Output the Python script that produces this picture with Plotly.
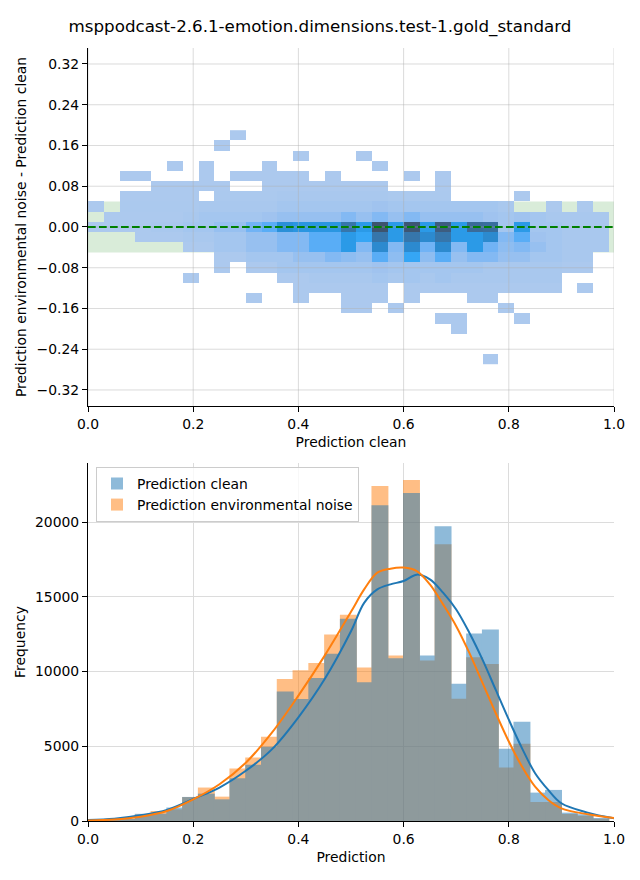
import math
import plotly.graph_objects as go

# ---------------- data ----------------
TITLE = "msppodcast-2.6.1-emotion.dimensions.test-1.gold_standard"

# 2D histogram (top): x = Prediction clean bins (centres), y = difference bins (centres)
clean_bins = [round(0.015 + 0.03 * k, 4) for k in range(33)]
diff_bins = [round(-0.26 + 0.02 * j, 2) for j in range(23)]  # -0.26 ... 0.18

# counts per cell, one row per diff bin (from -0.26 up to 0.18); 0 = empty cell
row_m026 = [0]*25 + [15] + [0]*7
row_m024 = [0]*33
row_m022 = [0]*33
row_m020 = [0]*23 + [15] + [0]*9
row_m018 = [0]*22 + [15, 15, 0, 0, 0, 15] + [0]*5
row_m016 = [0]*16 + [15, 15, 0, 15] + [0]*6 + [15] + [0]*6
row_m014 = [0]*10 + [15, 0, 0, 15, 0, 0, 15, 15, 15, 0, 15, 0, 0, 0, 15, 15] + [0]*7
row_m012 = [0]*13 + [15]*6 + [0] + [20, 20, 20, 20, 20, 20, 15, 15, 15, 15] + [0, 15, 0]
row_m010 = [0]*6 + [15] + [0]*5 + [15, 15] + [90]*4 + [230, 90, 230, 90, 230] + [90]*7 + [0]*3
row_m008 = [0]*8 + [15, 0, 15, 15] + [230]*6 + [380] + [230]*6 + [90]*5 + [15, 15, 0]
row_m006 = [0]*8 + [15, 15, 230, 230, 230, 610, 610, 1140, 840, 610, 1980, 840, 2510, 840,
                    1980, 610, 1140, 1140, 610, 610, 230, 230, 90, 90, 0]
row_m004 = [0]*6 + [15, 15, 230, 230, 610, 610, 1140, 1140, 1980, 1980, 3190, 1140, 4180, 1140,
                    4180, 1520, 4180, 1140, 3190, 1520, 840, 1140, 610, 230, 90, 90, 90]
row_m002 = [0]*3 + [15, 15, 15, 90, 90, 230, 230, 610, 610, 1140, 1140, 1980, 1980, 3190, 2510,
                    5470, 3190, 5470, 4180, 5470, 3190, 3190, 4180, 1140, 1980, 380, 230, 90, 90, 90]
row_000 = [15, 15, 15, 15, 90, 90, 230, 230, 610, 610, 1520, 1980, 3800, 3420, 3420, 3420, 5470,
           3190, 7600, 3190, 7450, 3190, 6990, 3190, 6080, 5930, 230, 3190, 230, 230, 90, 90, 90]
row_p002 = [0, 15, 15, 15, 15, 15, 90, 230, 230, 230, 230, 380, 610, 610, 610, 610, 1140, 610,
            1140, 610, 1140, 610, 610, 610, 610, 380, 230, 380, 230, 90, 90, 90, 90]
row_p004 = [15, 0, 30, 30, 30, 30, 30, 90, 90, 90, 90, 90, 230, 230, 230, 230, 230, 230, 380,
            230, 230, 230, 230, 230, 230, 230, 90, 0, 0, 15, 0, 15, 0]
row_p006 = [0, 0, 15, 15, 15, 15, 15, 0, 30, 30, 30, 30, 90, 90, 90, 90, 90, 90, 90, 30, 30, 30,
            30, 0, 0, 0, 0, 15, 0, 0, 0, 0, 0]
row_p008 = [0]*4 + [15]*5 + [0, 0] + [15]*8 + [0]*3 + [15] + [0]*10
row_p010 = [0, 0, 15, 15, 0, 0, 0, 15, 0, 15, 15, 15, 15, 15, 0, 15, 0, 0, 0, 0, 15, 0, 15] + [0]*10
row_p012 = [0]*5 + [15, 0, 15, 0, 0, 0, 15] + [0]*6 + [15] + [0]*14
row_p014 = [0]*13 + [15, 0, 0, 0, 15] + [0]*15
row_p016 = [0]*8 + [15] + [0]*24
row_p018 = [0]*9 + [15] + [0]*23

cell_counts = [row_m026, row_m024, row_m022, row_m020, row_m018, row_m016, row_m014, row_m012,
               row_m010, row_m008, row_m006, row_m004, row_m002, row_000, row_p002, row_p004,
               row_p006, row_p008, row_p010, row_p012, row_p014, row_p016, row_p018]

band_limits = [-0.05, 0.05]
zero_ref = 0.0

top_x_ticks = [0.0, 0.2, 0.4, 0.6, 0.8, 1.0]
top_x_labels = ["0.0", "0.2", "0.4", "0.6", "0.8", "1.0"]
top_y_ticks = [-0.32, -0.24, -0.16, -0.08, 0.0, 0.08, 0.16, 0.24, 0.32]
top_y_labels = ["\u22120.32", "\u22120.24", "\u22120.16", "\u22120.08", "0.00", "0.08", "0.16", "0.24", "0.32"]

# Histogram (bottom)
hist_bins = clean_bins
hist_clean = [20, 60, 150, 480, 490, 900, 1610, 1830, 1450, 2860, 3760, 4970, 8660, 8170, 9570,
              11190, 13530, 9280, 21140, 10900, 21950, 11070, 19730, 9190, 12550, 12820, 4830,
              6640, 1900, 2080, 560, 450, 200]
hist_noise = [15, 40, 110, 430, 670, 780, 1600, 2240, 1630, 3510, 4250, 5640, 9510, 10090, 10580,
              12480, 13800, 10270, 22420, 11070, 22820, 10740, 18520, 8190, 10960, 10500, 3580,
              5170, 1270, 1270, 470, 350, 150]

kde_x = [0.0, 0.05, 0.1, 0.15, 0.2, 0.25, 0.3, 0.35, 0.4, 0.45, 0.5, 0.525, 0.55, 0.575, 0.6,
         0.625, 0.65, 0.675, 0.7, 0.725, 0.75, 0.775, 0.8, 0.825, 0.85, 0.875, 0.9, 0.95, 1.0]
kde_clean = [70, 150, 380, 740, 1470, 2240, 3360, 4810, 6940, 9500, 12700, 14600, 15500, 15840,
             16060, 16490, 16170, 15280, 14160, 12600, 10800, 8790, 6780, 4880, 3200, 2080, 1190,
             560, 180]
kde_noise = [40, 100, 290, 670, 1450, 2460, 3900, 5930, 8390, 11070, 14000, 15500, 16620, 16890,
             16960, 16730, 15840, 14500, 13040, 11250, 9240, 7230, 5320, 3650, 2300, 1410, 850,
             450, 200]

bottom_y_ticks = [0, 5000, 10000, 15000, 20000]
bottom_y_labels = ["0", "5000", "10000", "15000", "20000"]

# ---------------- seaborn-like sequential colormap (HUSL ramp) ----------------
M_RGB = [[3.2406, -1.5372, -0.4986], [-0.9689, 1.8758, 0.0415], [0.0557, -0.2040, 1.0570]]
M_INV = [[0.4124, 0.3576, 0.1805], [0.2126, 0.7152, 0.0722], [0.0193, 0.1192, 0.9505]]
REF_U, REF_V = 0.19784, 0.46834
LAB_E, LAB_K = 0.008856, 903.3


def max_chroma(L, H):
    hrad = math.radians(H)
    sh, ch = math.sin(hrad), math.cos(hrad)
    sub1 = (L + 16) ** 3 / 1560896.0
    sub2 = sub1 if sub1 > LAB_E else L / LAB_K
    result = float("inf")
    for m1, m2, m3 in M_RGB:
        top = (0.99915 * m1 + 1.05122 * m2 + 1.14460 * m3) * sub2
        rb = 0.86330 * m3 - 0.17266 * m2
        lb = 0.12949 * m3 - 0.38848 * m1
        bottom = (rb * sh + lb * ch) * sub2
        for t in (0.0, 1.0):
            C = L * (top - 1.05122 * t) / (bottom + 0.17266 * sh * t)
            if 0 < C < result:
                result = C
    return result


def husl_to_rgb(H, S, L):
    C = max_chroma(L, H) / 100.0 * S
    U = math.cos(math.radians(H)) * C
    V = math.sin(math.radians(H)) * C
    t = (L + 16) / 116.0
    varY = t ** 3 if t ** 3 > LAB_E else L / LAB_K
    varU = U / (13 * L) + REF_U
    varV = V / (13 * L) + REF_V
    Y = varY
    X = -(9 * Y * varU) / ((varU - 4) * varV - varU * varV)
    Z = (9 * Y - 15 * varV * Y - varV * X) / (3 * varV)
    out = []
    for row in M_RGB:
        lin = row[0] * X + row[1] * Y + row[2] * Z
        v = 12.92 * lin if lin <= 0.0031308 else 1.055 * lin ** (1 / 2.4) - 0.055
        out.append(min(max(v, 0.0), 1.0))
    return out


def rgb_to_husl(r, g, b):
    lin = [((c + 0.055) / 1.055) ** 2.4 if c > 0.04045 else c / 12.92 for c in (r, g, b)]
    X, Y, Z = [sum(row[i] * lin[i] for i in range(3)) for row in M_INV]
    den = X + 15 * Y + 3 * Z
    vu, vv = 4 * X / den, 9 * Y / den
    L = 116 * Y ** (1 / 3) - 16 if Y > LAB_E else Y * LAB_K
    U, V = 13 * L * (vu - REF_U), 13 * L * (vv - REF_V)
    C = math.hypot(U, V)
    H = math.degrees(math.atan2(V, U)) % 360
    return H, C / max_chroma(L, H) * 100, L


seed = (0x1f / 255, 0x77 / 255, 0xb4 / 255)
h0, s0, _ = rgb_to_husl(*seed)
n_ramp = int(1.15 * 256)
ramp = []
for i in range(256):
    xx = -1 + 2 * i / (n_ramp - 1)
    ramp.append(husl_to_rgb(h0, s0 * math.cos(xx), 35 + 45 * i / 255))
ramp = ramp[::-1]
K = 40
colorscale = []
for i in range(K):
    r, g, b = ramp[round(i * 255 / (K - 1))]
    colorscale.append([i / (K - 1), f"rgb({round(r*255)},{round(g*255)},{round(b*255)})"])

z = [[v if v > 0 else None for v in row] for row in cell_counts]
flat = [v for row in cell_counts for v in row if v > 0]

# ---------------- figure ----------------
BLUE, ORANGE = "#1f77b4", "#ff7f0e"
GRID = "#dcdcdc"
FONT = "DejaVu Sans"
BAR_W = 0.0322  # ~1px overlap so adjacent bars show no anti-aliasing seams

fig = go.Figure()
fig.add_trace(go.Heatmap(x=clean_bins, y=diff_bins, z=z, colorscale=colorscale,
                         zmin=min(flat), zmax=max(flat), showscale=False,
                         hoverinfo="skip", xaxis="x", yaxis="y"))

fig.add_trace(go.Bar(x=hist_bins, y=hist_noise, width=BAR_W, name="Prediction environmental noise",
                     marker=dict(color=ORANGE, line=dict(width=0)), opacity=0.5,
                     xaxis="x2", yaxis="y2", legendrank=2))
fig.add_trace(go.Bar(x=hist_bins, y=hist_clean, width=BAR_W, name="Prediction clean",
                     marker=dict(color=BLUE, line=dict(width=0)), opacity=0.5,
                     xaxis="x2", yaxis="y2", legendrank=1))
fig.add_trace(go.Scatter(x=kde_x, y=kde_clean, mode="lines", line=dict(color=BLUE, width=2, shape="spline"),
                         showlegend=False, xaxis="x2", yaxis="y2", hoverinfo="skip"))
fig.add_trace(go.Scatter(x=kde_x, y=kde_noise, mode="lines", line=dict(color=ORANGE, width=2, shape="spline"),
                         showlegend=False, xaxis="x2", yaxis="y2", hoverinfo="skip"))

shapes = [dict(type="rect", xref="x domain", yref="y", x0=0, x1=1, y0=band_limits[0], y1=band_limits[1],
               fillcolor="rgba(0,128,0,0.15)", line=dict(width=0), layer="below")]
for xv in top_x_ticks:
    shapes.append(dict(type="line", xref="x", yref="y domain", x0=xv, x1=xv, y0=0, y1=1,
                       line=dict(color="rgba(176,176,176,0.45)", width=1), layer="above"))
for yv in top_y_ticks:
    shapes.append(dict(type="line", xref="x domain", yref="y", x0=0, x1=1, y0=yv, y1=yv,
                       line=dict(color="rgba(176,176,176,0.45)", width=1), layer="above"))
shapes.append(dict(type="line", xref="x domain", yref="y", x0=0, x1=1, y0=zero_ref, y1=zero_ref,
                   line=dict(color="green", width=2, dash="7.7px,3.3px"), layer="above"))

axis_common = dict(showline=True, linecolor="black", linewidth=1.1, ticks="outside", ticklen=5,
                   tickwidth=1.1, tickcolor="black", zeroline=False, mirror=False,
                   tickfont=dict(family=FONT, size=13.9, color="black"))

fig.update_layout(
    width=640, height=880,
    margin=dict(l=88, r=26, t=48, b=59),
    paper_bgcolor="white", plot_bgcolor="white",
    font=dict(family=FONT, size=13.9, color="black"),
    title=dict(text=TITLE, x=0.5, xref="container", xanchor="center",
               y=1 - 26 / 880, yref="container", yanchor="middle",
               font=dict(family=FONT, size=16.7, color="black")),
    barmode="overlay",
    showlegend=True,
    legend=dict(x=0.0152, y=0.458, xanchor="left", yanchor="top", bgcolor="rgba(255,255,255,0.8)",
                bordercolor="#cccccc", borderwidth=1, font=dict(family=FONT, size=13.9, color="black"),
                itemwidth=30, tracegroupgap=0),
    shapes=shapes,
    xaxis=dict(domain=[0, 1], anchor="y", range=[0, 1], tickvals=top_x_ticks, ticktext=top_x_labels,
               showgrid=False, title=dict(text="Prediction clean", standoff=6,
                                          font=dict(family=FONT, size=13.9)), **axis_common),
    yaxis=dict(domain=[0.5369, 1], anchor="x", range=[-0.3514, 0.3514], tickvals=top_y_ticks,
               ticktext=top_y_labels, showgrid=False,
               title=dict(text="Prediction environmental noise - Prediction clean", standoff=6,
                          font=dict(family=FONT, size=13.9)), **axis_common),
    xaxis2=dict(domain=[0, 1], anchor="y2", range=[0, 1], tickvals=top_x_ticks, ticktext=top_x_labels,
                showgrid=True, gridcolor=GRID, gridwidth=1,
                title=dict(text="Prediction", standoff=6, font=dict(family=FONT, size=13.9)), **axis_common),
    yaxis2=dict(domain=[0, 0.4631], anchor="x2", range=[0, 23960], tickvals=bottom_y_ticks,
                ticktext=bottom_y_labels, showgrid=True, gridcolor=GRID, gridwidth=1,
                title=dict(text="Frequency", standoff=6, font=dict(family=FONT, size=13.9)), **axis_common),
)

fig.write_html("out.html")
